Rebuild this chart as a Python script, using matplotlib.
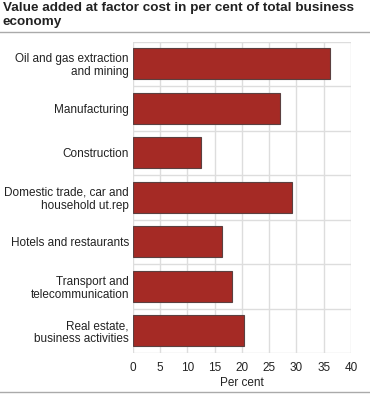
import numpy as np
import matplotlib
matplotlib.use('Agg')
import matplotlib.pyplot as plt

plt.rcParams['font.family'] = ['Liberation Sans', 'DejaVu Sans']

categories = ['Oil and gas extraction\nand mining', 'Manufacturing', 'Construction',
              'Domestic trade, car and\nhousehold ut.rep', 'Hotels and restaurants',
              'Transport and\ntelecommunication', 'Real estate,\nbusiness activities']
values = [36.1, 27.0, 12.5, 29.2, 16.4, 18.2, 20.4]
xticks = [0, 5, 10, 15, 20, 25, 30, 35, 40]

fig = plt.figure(figsize=(3.7, 3.96), dpi=100)
ax = fig.add_axes([0.3595, 0.1086, 0.589, 0.7861])

y = np.arange(len(categories))
ax.barh(y, values, height=0.7, color='#a52a25', edgecolor='#5b4040', linewidth=0.8, zorder=3)

ax.set_ylim(len(categories) - 0.5, -0.5)
ax.set_xlim(0, 40)
ax.set_xticks(xticks)
ax.set_yticks(y)
ax.set_yticklabels(categories, fontsize=8.5, color='#222222', linespacing=1.1)
ax.tick_params(axis='x', labelsize=8.5, colors='#222222', pad=6.5)
ax.tick_params(axis='y', pad=3)
ax.tick_params(length=0)

# grid: vertical at ticks, horizontal between categories
for xv in xticks:
    ax.axvline(xv, color='#dddddd', lw=1, zorder=1)
for b in np.arange(-0.5, len(categories), 1):
    ax.axhline(b, color='#dddddd', lw=1, zorder=1)
for s in ax.spines.values():
    s.set_visible(False)

ax.set_xlabel('Per cent', fontsize=8.5, color='#222222', labelpad=2)

fig.text(0.008, 0.995, 'Value added at factor cost in per cent of total business\neconomy',
         fontsize=9.7, fontweight='bold', va='top', ha='left', color='#222222', linespacing=1.25)
fig.add_artist(plt.Line2D([0, 1], [0.919, 0.919], color='#aaaaaa', lw=1))
fig.add_artist(plt.Line2D([0, 1], [0.011, 0.011], color='#aaaaaa', lw=1))

fig.savefig('out.png', dpi=100)
